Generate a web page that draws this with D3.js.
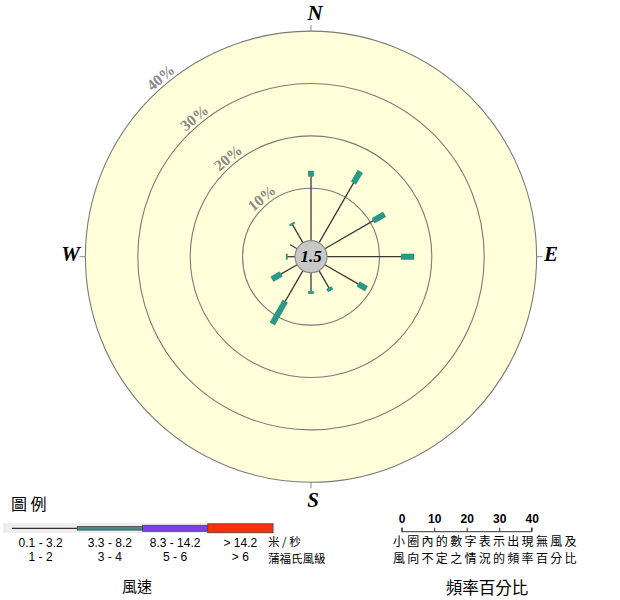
<!DOCTYPE html>
<html><head><meta charset="utf-8">
<script src="https://cdn.jsdelivr.net/npm/d3@7"></script>
<style>body{margin:0;background:#fff}svg{display:block}</style>
</head><body>
<svg id="c" width="620" height="600"></svg>
<script>
// ---- data ----
const directions = [0, 30, 60, 90, 120, 150, 180, 210, 240, 270, 300, 330]; // compass degrees
const lightPct = [12.3, 13.2, 10.7, 14.2, 7.4, 3.8, 3.6, 6.8, 3.6, 1.5, 1.6, 4.0]; // 0.1-3.2 m/s
const tealPct  = [1.0, 2.5, 2.4, 2.4, 1.7, 0.6, 0.4, 4.9, 1.9, 0.2, 0.0, 0.3];     // 3.3-8.2 m/s
const calmPct = 1.5;
const ringTicks = [10, 20, 30, 40];
const compassLabels = ["N", "E", "S", "W"];
const compassAngles = [0, 90, 180, 270];
const speedMs = ["0.1 - 3.2", "3.3 - 8.2", "8.3 - 14.2", "> 14.2"];
const speedBeaufort = ["1 - 2", "3 - 4", "5 - 6", "> 6"];
const unitLines = ["米 / 秒", "蒲福氏風級"];
const noteLines = ["小圈內的數字表示出現無風及", "風向不定之情況的頻率百分比"];
const freqTicks = [0, 10, 20, 30, 40];

const svg = d3.select("#c");
const cx = 311, cy = 256.7;
const r = d3.scaleLinear().domain([0, 40]).range([16, 225.6]);
const serif = "'Liberation Serif','DejaVu Serif',serif";
const sans = "'Liberation Sans',Arial,sans-serif";
const cjk = "'Noto Sans CJK TC','Liberation Sans',sans-serif";

const g = svg.append("g").attr("transform", `translate(${cx},${cy})`);
// background disc
g.append("circle").attr("r", r(40)).attr("fill", "#ffffd9");
// rings
g.selectAll("circle.ring").data(ringTicks).join("circle").attr("class", "ring")
  .attr("r", d => r(d)).attr("fill", "none").attr("stroke", "#7a7a7a").attr("stroke-width", 1.1);
// compass ticks
g.selectAll("line.ct").data(compassAngles).join("line").attr("class", "ct")
  .attr("transform", d => `rotate(${d})`)
  .attr("x1", 0).attr("x2", 0).attr("y1", -r(40)).attr("y2", -r(40) - 6)
  .attr("stroke", "#8a8a8a").attr("stroke-width", 1);
// ring labels
const ang = -40;
g.selectAll("text.rl").data(ringTicks).join("text").attr("class", "rl")
  .attr("transform", d => `rotate(${ang}) translate(0,${-(r(d) + 3)})`)
  .attr("text-anchor", "middle")
  .attr("font-family", serif).attr("font-weight", "bold").attr("font-size", 15.5)
  .attr("fill", "#8a8a8a").text(d => d + "%");
// compass labels
const labelPos = {N: [4, -r(40) - 11], E: [240, 4], S: [2, r(40) + 25], W: [-240.5, 4]};
g.selectAll("text.cl").data(compassLabels).join("text").attr("class", "cl")
  .attr("x", d => labelPos[d][0]).attr("y", d => labelPos[d][1])
  .attr("text-anchor", "middle").attr("font-family", serif)
  .attr("font-weight", "bold").attr("font-style", "italic").attr("font-size", 21)
  .attr("fill", "#000").text(d => d);

// rose arms
const arms = g.selectAll("g.arm").data(directions.map((d, i) => ({a: d, l: lightPct[i], t: tealPct[i]})))
  .join("g").attr("class", "arm").attr("transform", d => `rotate(${d.a})`);
arms.append("line").attr("x1", 0).attr("x2", 0)
  .attr("y1", -r(0)).attr("y2", d => -r(d.l))
  .attr("stroke", "#3a3a3a").attr("stroke-width", 1.3);
arms.filter(d => d.t > 0).append("rect")
  .attr("x", -2.7).attr("width", 5.4)
  .attr("y", d => -r(d.l + d.t)).attr("height", d => Math.max(1.2, r(d.l + d.t) - r(d.l)))
  .attr("fill", "#279b87").attr("stroke", "#1e7f6e").attr("stroke-width", 0.5);

// centre circle
g.append("circle").attr("r", r(0)).attr("fill", "#c8c8c8").attr("stroke", "#8a8a8a").attr("stroke-width", 1.2);
g.append("text").attr("x", 0).attr("y", 5.5).attr("text-anchor", "middle")
  .attr("font-family", serif).attr("font-weight", "bold").attr("font-style", "italic")
  .attr("font-size", 17).text(calmPct.toFixed(1));

// ---- legend: wind speed ----
svg.append("text").attr("x", 11).attr("y", 510).attr("font-family", cjk).attr("font-size", 16)
  .text("圖 例");
const band = d3.scaleBand().domain(d3.range(4)).range([12, 273]);
svg.append("rect").attr("x", 3).attr("y", 523).attr("width", 272).attr("height", 10).attr("fill", "#eeeeee");
const segH = [0, 3.6, 6, 9];
const segFill = ["#000", "#3e8f8a", "#7f40dc", "#ff2d0e"];
svg.selectAll("rect.seg").data(d3.range(4)).join("rect").attr("class", "seg")
  .attr("x", d => band(d)).attr("width", band.bandwidth())
  .attr("y", d => 528.3 - Math.max(segH[d], 1) / 2).attr("height", d => Math.max(segH[d], 1))
  .attr("fill", d => segFill[d]).attr("stroke", d => d === 0 ? "none" : "#444").attr("stroke-width", 0.8);
svg.selectAll("text.ms").data(speedMs).join("text").attr("class", "ms")
  .attr("x", (d, i) => band(i) + band.bandwidth() / 2 - (i === 0 ? 4 : 0)).attr("y", 547)
  .attr("text-anchor", "middle").attr("font-family", sans).attr("font-size", 12).text(d => d);
svg.selectAll("text.bf").data(speedBeaufort).join("text").attr("class", "bf")
  .attr("x", (d, i) => band(i) + band.bandwidth() / 2 - (i === 0 ? 4 : 0)).attr("y", 561)
  .attr("text-anchor", "middle").attr("font-family", sans).attr("font-size", 12).text(d => d);
// units: two lines
svg.selectAll("text.unit").data(unitLines).join("text").attr("class", "unit")
  .attr("font-family", cjk).attr("font-size", 11.5)
  .attr("x", 268).attr("y", (d, i) => 545.5 + i * 17).text(d => d);
svg.append("text").attr("x", 137).attr("y", 592).attr("text-anchor", "middle").attr("font-family", cjk).attr("font-size", 15).text("風速");

// ---- legend: frequency scale ----
const fx = d3.scaleLinear().domain([0, 40]).range([401.7, 531.7]);
const ax = svg.append("g").attr("transform", "translate(0,531.7)")
  .call(d3.axisTop(fx).tickValues(freqTicks).tickSize(4).tickPadding(5).tickFormat(d3.format("d")));
ax.select(".domain").attr("stroke", "#333").attr("d", `M${fx(0)},-4V0H${fx(40)}V-4`);
ax.selectAll(".tick line").attr("stroke", "#333");
ax.selectAll(".tick text").attr("font-family", sans).attr("font-weight", "bold").attr("font-size", 12).attr("fill", "#000");
// note: two lines
svg.selectAll("text.note").data(noteLines).join("text").attr("class", "note")
  .attr("font-family", cjk).attr("font-size", 12)
  .attr("x", 393).attr("y", (d, i) => 545.5 + i * 17.6)
  .attr("textLength", 183.5).text(d => d);
svg.append("text").attr("x", 487).attr("y", 594).attr("text-anchor", "middle").attr("font-family", cjk).attr("font-size", 16.5)
  .text("頻率百分比");
</script>
</body></html>
